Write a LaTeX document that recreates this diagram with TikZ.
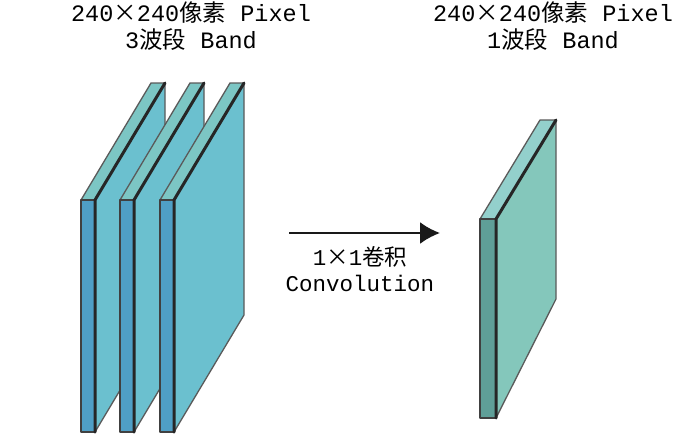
\documentclass[tikz,border=0pt]{standalone}
\usepackage{fontspec}
\setmonofont{Liberation Mono}
\newfontfamily\cjk{Noto Sans CJK SC}
\newcommand{\zh}[1]{{\cjk #1}}
\definecolor{bluefront}{HTML}{4F9FC6}
\definecolor{bluetop}{HTML}{7CC6C4}
\definecolor{blueside}{HTML}{6BC0CF}
\definecolor{greenfront}{HTML}{5F9F98}
\definecolor{greentop}{HTML}{93D0CC}
\definecolor{greenside}{HTML}{84C7BB}
\definecolor{softedge}{HTML}{5A5A5A}
\tikzset{
    caption/.style={align=center,inner sep=0pt,font=\ttfamily\fontsize{23.5}{27}\selectfont},
    softface/.style={draw=softedge,line width=1.3pt,line join=round},
    hardedge/.style={black!85,line width=3pt,line cap=round},
    flow/.style={-{Latex[length=20pt,width=22pt]},black!90,line width=2.2pt}
}
\usetikzlibrary{arrows.meta}
\begin{document}
\begin{tikzpicture}[x=1pt,y=-1pt]
\useasboundingbox (0,0) rectangle (700,436);
    % three band stack
    \foreach \x/\w in {81/14,120/14,160/14}{
        \filldraw[softface,fill=blueside] (\x+\w,200) -- (\x+\w+70,83) -- (\x+\w+70,315) -- (\x+\w,432) -- cycle;
        \filldraw[softface,fill=bluetop] (\x,200) -- (\x+70,83) -- (\x+\w+70,83) -- (\x+\w,200) -- cycle;
        \filldraw[softface,fill=bluefront,draw=black!75,line width=2pt] (\x,200) rectangle (\x+\w,432);
        \draw[hardedge] (\x+\w+70,83) -- (\x+\w,200) -- (\x+\w,432);
    }
    % single band
    \filldraw[softface,fill=greenside] (496,219) -- (556,120) -- (556,299) -- (496,418) -- cycle;
    \filldraw[softface,fill=greentop] (480,219) -- (540,120) -- (556,120) -- (496,219) -- cycle;
    \filldraw[softface,fill=greenfront,draw=black!75,line width=2pt] (480,219) rectangle (496,418);
    \draw[hardedge] (556,120) -- (496,219) -- (496,418);
    % labels
    \node[caption] (inputlabel) at (191,26) {240\zh{×}240\zh{像素} Pixel\\3\zh{波段} Band};
    \node[caption] (outputlabel) at (553,26) {240\zh{×}240\zh{像素} Pixel\\1\zh{波段} Band};
    \coordinate (flowstart) at (289,233);
    \coordinate (flowend) at (440,233);
    \draw[flow] (flowstart) -- (flowend);
    \node[caption,font=\ttfamily\fontsize{22.5}{26}\selectfont] (convlabel) at (360,269) {1\zh{×}1\zh{卷积}\\Convolution};
\end{tikzpicture}
\end{document}
